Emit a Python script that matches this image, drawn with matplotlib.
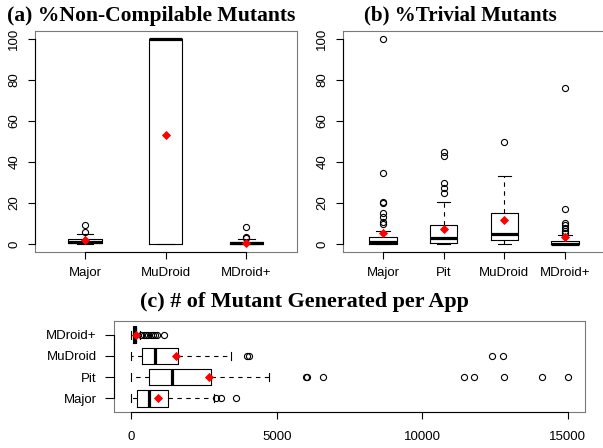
import matplotlib
matplotlib.use('Agg')
import matplotlib.pyplot as plt
import matplotlib.transforms as mtransforms

W, H, DPI = 603, 448, 100

# ---------------- data ----------------
# (a) % Non-compilable mutants
a_labels = ['Major', 'MuDroid', 'MDroid+']
a_q1 = [0.3, 0.0, 0.0]
a_med = [1.1, 100.0, 0.3]
a_q3 = [2.4, 100.0, 1.0]
a_lo = [0.0, 0.0, 0.0]
a_hi = [4.9, 100.0, 2.3]
a_mean = [1.7, 53.0, 0.6]
a_fliers = [[5.6, 9.3], [], [3.0, 3.4, 8.4]]

# (b) % Trivial mutants
b_labels = ['Major', 'Pit', 'MuDroid', 'MDroid+']
b_q1 = [0.0, 0.5, 2.0, 0.0]
b_med = [1.1, 2.9, 4.6, 0.0]
b_q3 = [3.3, 9.1, 15.0, 1.6]
b_lo = [0.0, 0.0, 0.0, 0.0]
b_hi = [6.2, 20.5, 33.3, 4.5]
b_mean = [5.2, 7.0, 11.7, 3.1]
b_fliers = [[9.6, 10.9, 13.3, 15.0, 19.8, 20.2, 34.5, 100.0],
            [24.7, 27.5, 29.9, 42.9, 45.0],
            [49.8],
            [5.2, 6.5, 7.8, 9.1, 10.4, 16.9, 76.3]]

# (c) # of mutants generated per app
c_labels = ['Major', 'Pit', 'MuDroid', 'MDroid+']
c_q1 = [206, 606, 366, 50]
c_med = [595, 1396, 801, 110]
c_q3 = [1270, 2746, 1602, 170]
c_lo = [0, 0, 0, 0]
c_hi = [2826, 4736, 3409, 300]
c_mean = [915, 2666, 1522, 160]
c_fliers = [[2894, 3077, 3592],
            [6002, 6030, 6587, 11422, 11780, 12826, 14111, 15000],
            [3970, 4027, 12416, 12786],
            [340, 420, 500, 580, 660, 740, 800, 880, 1133]]

pct_ticks = [0, 20, 40, 60, 80, 100]
cnt_ticks = [0, 5000, 10000, 15000]

titles = ['(a) %Non-Compilable Mutants', '(b) %Trivial Mutants',
          '(c) # of Mutant Generated per App']

# ---------------- figure ----------------
plt.rcParams['font.family'] = ['Liberation Sans', 'DejaVu Sans']
fig = plt.figure(figsize=(W / DPI, H / DPI), dpi=DPI)


def pos(l, t, r, b):
    return [l / W, 1 - b / H, (r - l) / W, (b - t) / H]


LW = 0.8
FRAME = '#7a7a7a'
TICKFS = 9.5


def draw(ax, labels, q1, med, q3, lo, hi, mean, fliers, width, orient):
    stats = []
    for i in range(len(labels)):
        stats.append(dict(label=labels[i], q1=q1[i], med=med[i], q3=q3[i],
                          whislo=lo[i], whishi=hi[i], mean=mean[i],
                          fliers=fliers[i]))
    n = len(labels)
    ax.bxp(stats, positions=list(range(1, n + 1)), widths=width,
           capwidths=width * 0.5, orientation=orient, showmeans=True,
           boxprops=dict(color='black', lw=LW),
           medianprops=dict(color='black', lw=2.3, solid_capstyle='butt'),
           whiskerprops=dict(color='black', lw=LW, linestyle=(0, (4, 4))),
           capprops=dict(color='black', lw=LW),
           flierprops=dict(marker='o', markerfacecolor='none',
                           markeredgecolor='black', markersize=4.4,
                           markeredgewidth=0.8),
           meanprops=dict(marker='D', markerfacecolor='red',
                          markeredgecolor='red', markersize=4.4,
                          markeredgewidth=0.6))
    for s in ax.spines.values():
        s.set_color(FRAME)
        s.set_linewidth(LW)
    ax.tick_params(direction='out', width=LW, color='black',
                   labelsize=TICKFS, top=False, right=False)


def axis_lines(ax, xr=None, yr=None):
    if xr is not None:
        tr = mtransforms.blended_transform_factory(ax.transData, ax.transAxes)
        ax.plot(xr, [0, 0], color='black', lw=LW, transform=tr,
                clip_on=False, zorder=5)
    if yr is not None:
        tr = mtransforms.blended_transform_factory(ax.transAxes, ax.transData)
        ax.plot([0, 0], yr, color='black', lw=LW, transform=tr,
                clip_on=False, zorder=5)


# (a)
axa = fig.add_axes(pos(35, 31, 296.5, 252))
draw(axa, a_labels, a_q1, a_med, a_q3, a_lo, a_hi, a_mean, a_fliers, 0.41, 'vertical')
axa.set_xlim(0.38, 3.62)
axa.set_ylim(-4, 104)
axa.set_yticks(pct_ticks)
axa.set_xticks(range(1, 4), a_labels)
axa.tick_params(axis='y', length=5, pad=5.5, labelrotation=90)
axa.tick_params(axis='x', length=5, pad=6)
for lab in axa.get_yticklabels():
    lab.set_va('center')
axis_lines(axa, xr=[1, 3], yr=[0, 100])

# (b)
axb = fig.add_axes(pos(343, 31, 605, 252))
draw(axb, b_labels, b_q1, b_med, b_q3, b_lo, b_hi, b_mean, b_fliers, 0.45, 'vertical')
axb.set_xlim(0.34, 4.66)
axb.set_ylim(-4, 104)
axb.set_yticks(pct_ticks)
axb.set_xticks(range(1, 5), b_labels)
axb.tick_params(axis='y', length=5, pad=5.5, labelrotation=90)
axb.tick_params(axis='x', length=5, pad=6)
for lab in axb.get_yticklabels():
    lab.set_va('center')
axis_lines(axb, xr=[1, 4], yr=[0, 100])

# (c)
axc = fig.add_axes(pos(114, 321, 585, 412))
draw(axc, c_labels, c_q1, c_med, c_q3, c_lo, c_hi, c_mean, c_fliers, 0.8, 'horizontal')
axc.set_ylim(0.34, 4.66)
axc.set_xlim(-600, 15600)
axc.set_xticks(cnt_ticks)
axc.set_yticks(range(1, 5), c_labels)
axc.tick_params(axis='x', length=5, pad=9)
axc.tick_params(axis='y', length=6.5, pad=6)
axis_lines(axc, xr=[0, 15000], yr=[1, 4])

# titles (bold serif), sized to the reference widths
fig.canvas.draw()
renderer = fig.canvas.get_renderer()
title_specs = [(titles[0], 151.5, 20.5, 288), (titles[1], 460, 20.5, 193),
               (titles[2], 304, 307, 328)]
for txt, cx, base, target in title_specs:
    t = fig.text(cx / W, 1 - base / H, txt, ha='center', va='baseline',
                 fontsize=13, fontweight='bold',
                 family=['Liberation Serif', 'DejaVu Serif'])
    bb = t.get_window_extent(renderer)
    t.set_fontsize(13 * target / bb.width)

fig.savefig('out.png', dpi=DPI)
